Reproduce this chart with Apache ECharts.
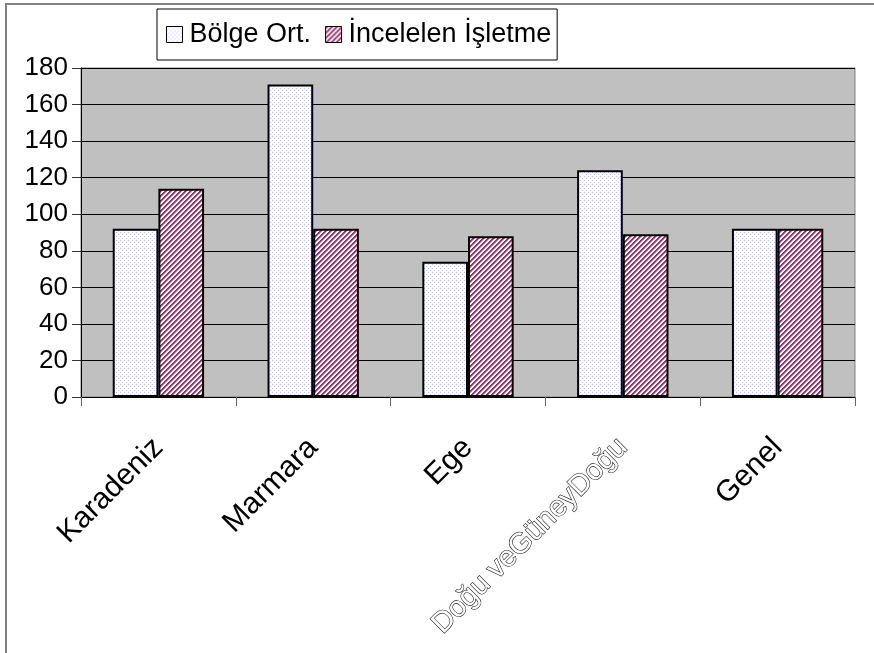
<!DOCTYPE html>
<html>
<head>
<meta charset="utf-8">
<script src="https://cdn.jsdelivr.net/npm/echarts@6/dist/echarts.min.js"></script>
<style>
html,body{margin:0;padding:0;background:#fff;}
#chart{width:874px;height:653px;}
</style>
</head>
<body>
<div id="chart"></div>
<script>
const categories = ['Karadeniz', 'Marmara', 'Ege', 'Doğu veGüneyDoğu', 'Genel'];
const bolgeOrt = [92, 171, 74, 124, 92];
const incelelen = [114, 92, 88, 89, 92];
const seriesNames = ['Bölge Ort.', 'İncelelen İşletme'];
const yTicks = { min: 0, max: 180, interval: 20 };

function dotPattern() {
  const c = document.createElement('canvas');
  c.width = 4; c.height = 4;
  const g = c.getContext('2d');
  g.fillStyle = '#ffffff'; g.fillRect(0, 0, 4, 4);
  g.fillStyle = '#c0c0ff';
  g.fillRect(0, 0, 1, 1);
  g.fillRect(2, 2, 1, 1);
  return c;
}
function hatchPattern() {
  const p = 5;
  const c = document.createElement('canvas');
  c.width = p; c.height = p;
  const g = c.getContext('2d');
  const img = g.createImageData(p, p);
  for (let y = 0; y < p; y++) {
    for (let x = 0; x < p; x++) {
      const k = (x + y) % p;
      const i = (y * p + x) * 4;
      let col = [255, 255, 255];
      if (k === 0 || k === 1) col = [153, 51, 102];
      else if (k === 2) col = [200, 140, 170];
      img.data[i] = col[0]; img.data[i + 1] = col[1]; img.data[i + 2] = col[2]; img.data[i + 3] = 255;
    }
  }
  g.putImageData(img, 0, 0);
  return c;
}

const font = '"Liberation Sans", Arial, sans-serif';
const chart = echarts.init(document.getElementById('chart'), null, { renderer: 'canvas' });
chart.setOption({
  animation: false,
  backgroundColor: '#ffffff',
  graphic: [{
    type: 'rect',
    shape: { x: 6, y: 4, width: 1000, height: 1000 },
    style: { fill: 'none', stroke: '#808080', lineWidth: 2 },
    silent: true
  }],
  legend: {
    left: 157, top: 9,
    padding: [12, 6, 12, 9],
    itemWidth: 16, itemHeight: 16,
    itemGap: 14,
    icon: 'rect',
    backgroundColor: '#ffffff',
    borderColor: '#000000', borderWidth: 1,
    itemStyle: { borderColor: '#000', borderWidth: 1 },
    textStyle: { fontFamily: font, fontSize: 27, color: '#000', padding: [0, 0, 0, 2] },
    data: seriesNames
  },
  grid: {
    left: 81, right: 19, top: 68, bottom: 256,
    outerBoundsMode: 'none', containLabel: false,
    show: true, backgroundColor: '#c0c0c0', borderColor: '#808080', borderWidth: 1
  },
  xAxis: {
    type: 'category',
    data: categories,
    axisLine: { lineStyle: { color: '#000', width: 1 } },
    axisTick: { show: true, length: 9, lineStyle: { color: '#666' } },
    axisLabel: {
      rotate: 45, margin: 46, interval: 0,
      fontFamily: font, fontSize: 30, color: '#000',
      formatter: function (v) { return v === 'Doğu veGüneyDoğu' ? '{o|' + v + '}' : v; },
      rich: { o: { fontFamily: font, fontSize: 29, color: '#ffffff', textBorderColor: '#222', textBorderWidth: 1.2 } }
    },
    splitLine: { show: false }
  },
  yAxis: {
    type: 'value',
    min: yTicks.min, max: yTicks.max, interval: yTicks.interval,
    axisLine: { show: true, lineStyle: { color: '#000', width: 1 } },
    axisTick: { show: true, length: 9, lineStyle: { color: '#333' } },
    axisLabel: { fontFamily: font, fontSize: 26, color: '#000', margin: 13 },
    splitLine: { show: true, lineStyle: { color: '#000', width: 1 } }
  },
  series: [
    {
      name: seriesNames[0], type: 'bar', data: bolgeOrt,
      barGap: '0%', barCategoryGap: '41%',
      itemStyle: { color: { image: dotPattern(), repeat: 'repeat' }, borderColor: '#000', borderWidth: 2 }
    },
    {
      name: seriesNames[1], type: 'bar', data: incelelen,
      barGap: '0%', barCategoryGap: '41%',
      itemStyle: { color: { image: hatchPattern(), repeat: 'repeat' }, borderColor: '#000', borderWidth: 2 }
    }
  ]
});
</script>
</body>
</html>
